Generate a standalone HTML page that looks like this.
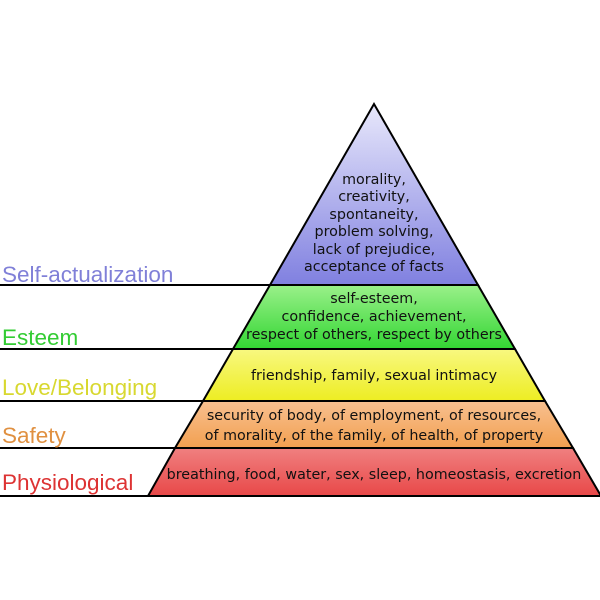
<!DOCTYPE html>
<html><head><style>body{margin:0;background:#fff}svg{display:block}</style></head><body>
<svg width="600" height="600" xmlns="http://www.w3.org/2000/svg">
<defs>
<linearGradient id="b" x1="0" y1="0" x2="0" y2="1"><stop offset="0" stop-color="#e8e8fb"/><stop offset="1" stop-color="#8080e0"/></linearGradient>
<linearGradient id="g" x1="0" y1="0" x2="0" y2="1"><stop offset="0" stop-color="#9af08a"/><stop offset="1" stop-color="#33d633"/></linearGradient>
<linearGradient id="y" x1="0" y1="0" x2="0" y2="1"><stop offset="0" stop-color="#f8f880"/><stop offset="1" stop-color="#eded22"/></linearGradient>
<linearGradient id="o" x1="0" y1="0" x2="0" y2="1"><stop offset="0" stop-color="#f8c090"/><stop offset="1" stop-color="#f2a050"/></linearGradient>
<linearGradient id="r" x1="0" y1="0" x2="0" y2="1"><stop offset="0" stop-color="#f08080"/><stop offset="1" stop-color="#e84848"/></linearGradient>
</defs>
<g stroke="#000" stroke-width="2">
<polygon points="374,104 270,285 478,285" fill="url(#b)"/>
<polygon points="270,285 478,285 515,349 233,349" fill="url(#g)"/>
<polygon points="233,349 515,349 545,401 203,401" fill="url(#y)"/>
<polygon points="203,401 545,401 573,448 175,448" fill="url(#o)"/>
<polygon points="175,448 573,448 601,496 148,496" fill="url(#r)"/>
<line x1="0" y1="285" x2="270" y2="285"/>
<line x1="0" y1="349" x2="233" y2="349"/>
<line x1="0" y1="401" x2="203" y2="401"/>
<line x1="0" y1="448" x2="175" y2="448"/>
<line x1="0" y1="496" x2="148" y2="496"/>
</g>
<g font-family="DejaVu Sans, sans-serif" font-size="14.3" text-anchor="middle" fill="#111">
<text x="374" y="184">morality,</text>
<text x="374" y="201">creativity,</text>
<text x="374" y="219">spontaneity,</text>
<text x="374" y="236">problem solving,</text>
<text x="374" y="254">lack of prejudice,</text>
<text x="374" y="271">acceptance of facts</text>
<text x="374" y="303">self-esteem,</text>
<text x="374" y="321">confidence, achievement,</text>
<text x="374" y="339">respect of others, respect by others</text>
<text x="374" y="380">friendship, family, sexual intimacy</text>
<text x="374" y="420">security of body, of employment, of resources,</text>
<text x="374" y="440">of morality, of the family, of health, of property</text>
<text x="374" y="479">breathing, food, water, sex, sleep, homeostasis, excretion</text>
</g>
<g font-family="Liberation Sans, sans-serif" font-size="22.5">
<text x="2" y="282" fill="#8080d8">Self-actualization</text>
<text x="2" y="345" fill="#33cc33">Esteem</text>
<text x="2" y="395" fill="#d8d830">Love/Belonging</text>
<text x="2" y="443" fill="#e09040">Safety</text>
<text x="2" y="490" fill="#dd3333">Physiological</text>
</g>
</svg>
</body></html>
